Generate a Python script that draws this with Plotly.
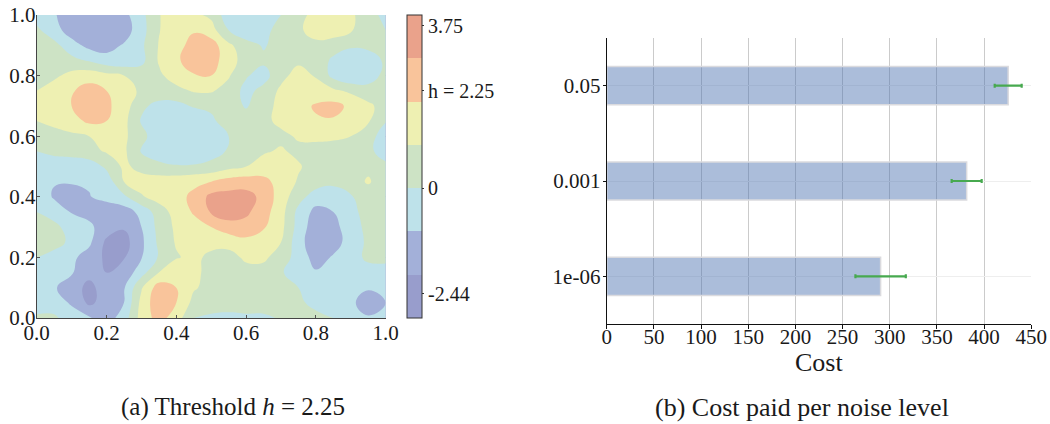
import plotly.graph_objects as go

# ---------------- data: panel (a) contour field ----------------
grid_x = [round(i * 0.05, 2) for i in range(21)]
grid_y = [round(i * 0.05, 2) for i in range(21)]

# rows from y = 0.00 (bottom) to y = 1.00 (top); columns x = 0.00 ... 1.00
z_rows = [
    [0.1, 0.2, -0.6, -0.9, -1.5, -0.5, 1.4, 2.4, 1.5, 0.0, -0.2, -0.3, -0.2, -0.2, 0.1, 0.4, 0.3, 0.0, -0.6, -0.9, -0.7],
    [-0.3, -0.6, -1.1, -2.2, -1.6, -1.0, 1.3, 2.7, 2.0, 0.7, 0.5, 0.5, 0.5, 0.5, 0.5, 0.2, -0.3, -0.6, -0.8, -1.5, -1.0],
    [-0.4, -0.9, -1.5, -2.3, -1.5, -1.1, 0.9, 2.5, 2.0, 1.1, 0.7, 0.6, 0.6, 0.5, 0.4, 0.0, -0.6, -0.7, -0.7, -0.9, -0.8],
    [-0.5, -0.8, -0.9, -1.7, -2.0, -1.7, -0.4, 1.0, 2.0, 1.3, 0.6, 0.5, 0.6, 0.6, 0.1, -0.5, -0.9, -0.7, -0.5, -0.4, -0.3],
    [0.0, -0.5, -0.8, -1.4, -2.2, -2.05, -1.05, 0.1, 0.9, 1.3, 0.7, 0.6, 1.2, 1.2, 0.5, -0.4, -1.4, -0.9, -0.4, 0.2, 0.2],
    [0.3, 0.5, -0.3, -0.8, -2.2, -2.4, -1.2, 0.2, 1.1, 1.5, 1.4, 1.4, 1.7, 1.5, 1.0, -0.6, -1.7, -1.4, -0.6, 0.2, 0.4],
    [0.4, 0.3, -0.5, -0.8, -1.5, -1.9, -1.0, 0.3, 1.2, 1.6, 2.0, 2.5, 2.6, 2.1, 1.3, -0.4, -1.6, -1.3, -0.5, 0.3, 0.4],
    [0.0, -0.5, -1.05, -1.3, -1.6, -1.5, -0.7, 0.5, 1.4, 2.1, 3.1, 3.6, 3.2, 2.4, 1.4, -0.3, -1.3, -1.0, -0.3, 0.4, 0.5],
    [-0.4, -1.1, -1.5, -1.05, -0.7, -0.2, 0.9, 1.4, 1.7, 2.2, 3.3, 3.4, 3.4, 2.7, 1.5, 0.4, -0.5, -0.7, -0.1, 0.5, 0.5],
    [-0.6, -0.95, -0.9, -0.9, -0.6, 1.0, 1.4, 1.5, 1.6, 1.8, 2.0, 2.4, 2.5, 2.3, 1.6, 0.9, 0.5, 0.3, 0.6, 1.1, 0.5],
    [-0.5, -0.7, -0.8, -0.6, 0.2, 1.2, 0.7, 0.3, 0.1, 0.1, 0.3, 0.7, 1.0, 1.4, 1.5, 1.1, 0.6, 0.5, 0.6, 0.8, 0.2],
    [0.0, 0.3, 0.5, 0.7, 1.1, 1.2, -0.1, -0.6, -0.8, -0.7, -0.4, 0.1, 0.5, 0.9, 1.1, 0.8, 0.5, 0.5, 0.4, 0.2, -0.4],
    [0.4, 0.6, 0.8, 1.0, 1.5, 1.2, 0.3, -0.6, -0.9, -0.9, -0.5, 0.0, 0.5, 0.6, 0.8, 1.1, 1.3, 1.2, 1.0, 0.4, -0.5],
    [1.0, 1.3, 1.6, 2.2, 2.0, 1.3, -0.1, -0.7, -0.9, -0.8, -0.2, 0.5, 0.5, 0.8, 1.2, 1.6, 1.9, 1.9, 1.6, 1.1, 0.05],
    [1.2, 1.6, 2.0, 2.7, 2.2, 1.5, 0.2, -0.3, -0.3, 0.1, 0.2, 0.5, -0.1, 0.6, 1.3, 1.7, 2.1, 2.3, 1.8, 1.2, 0.6],
    [1.0, 1.5, 1.9, 2.4, 2.0, 1.5, 0.8, 0.6, 0.7, 1.1, 1.1, 0.6, -0.3, 0.3, 1.2, 1.6, 1.5, 1.2, 0.8, 0.4, 0.3],
    [0.4, 0.8, 1.3, 1.6, 1.3, 1.0, 0.6, 0.8, 1.5, 1.9, 2.0, 1.1, 0.1, -0.4, 0.7, 1.4, 0.9, -0.3, -0.9, -0.5, 0.3],
    [0.5, 0.6, 0.3, -0.1, -0.6, -0.7, -0.3, 1.1, 1.8, 2.6, 2.4, 1.5, 0.5, 0.2, 0.3, 0.8, 0.6, -0.2, -0.8, -0.6, 0.2],
    [0.5, 0.3, -0.6, -1.3, -1.4, -0.9, -0.2, 1.05, 1.6, 2.4, 2.5, 1.2, 0.4, -0.1, 0.4, 0.6, 0.7, 0.5, 0.2, 0.3, 0.4],
    [0.2, -0.6, -1.5, -1.9, -1.9, -1.5, -0.4, 0.95, 1.6, 1.9, 1.4, 0.0, -0.7, -0.4, 0.5, 0.8, 1.5, 1.5, 1.1, 0.5, 0.0],
    [-0.4, -0.9, -1.6, -1.8, -1.7, -1.3, -0.3, 0.95, 1.5, 1.2, 0.8, -0.6, -0.9, -0.8, 0.0, 0.6, 1.4, 1.6, 1.2, 0.4, -0.3],
]

level_bounds = [-3, -2, -1, 0, 1, 2, 3, 4]
band_colors = ["#989dcc", "#a3b0d9", "#bee2ea", "#cde3c5", "#eef0b2", "#f9c49b", "#eaa28b"]
cbar_tickvals = [3.75, 2.25, 0, -2.44]
cbar_ticktext = ["3.75", "h = 2.25", "0", "-2.44"]
axis_ticks_a = [0.0, 0.2, 0.4, 0.6, 0.8, 1.0]
axis_ticktext_a = ["0.0", "0.2", "0.4", "0.6", "0.8", "1.0"]

# ---------------- data: panel (b) bars ----------------
noise_levels = ["1e-06", "0.001", "0.05"]
cost_mean = [290.3, 381.5, 425.5]
cost_err = [26.7, 15.9, 14.3]
cost_ticks = [0, 50, 100, 150, 200, 250, 300, 350, 400, 450]

FONT = "Liberation Serif, Times New Roman, serif"
TXT = "#1a1a1a"
W, H = 1050, 424


def fx(px):
    return px / W


def fy(py):
    return 1 - py / H


n = len(band_colors)
fill_scale = [[i / (n - 1), c] for i, c in enumerate(band_colors)]
step_scale = []
for i, c in enumerate(band_colors):
    step_scale.append([i / n, c])
    step_scale.append([(i + 1) / n, c])

GRID_A = "rgba(160,160,160,0.55)"

fig = go.Figure()

fig.add_trace(go.Contour(
    x=grid_x, y=grid_y, z=z_rows,
    xaxis="x", yaxis="y",
    colorscale=fill_scale,
    contours=dict(start=level_bounds[1], end=level_bounds[-2], size=1, coloring="fill", showlines=False),
    line=dict(width=0, smoothing=1.3),
    showscale=False,
    hoverinfo="skip",
))

fig.add_trace(go.Scatter(
    x=[None] * len(level_bounds), y=[None] * len(level_bounds),
    xaxis="x", yaxis="y", mode="markers",
    marker=dict(
        color=level_bounds, cmin=level_bounds[0], cmax=level_bounds[-1],
        colorscale=step_scale, showscale=True,
        colorbar=dict(
            x=fx(407), xanchor="left", xpad=0,
            y=fy(318), yanchor="bottom", ypad=0,
            len=303, lenmode="pixels",
            thickness=15, thicknessmode="pixels",
            outlinewidth=1, outlinecolor="#333333",
            tickmode="array", tickvals=cbar_tickvals, ticktext=cbar_ticktext,
            ticks="outside", ticklen=2, tickcolor="#333333",
            tickfont=dict(family=FONT, size=20, color=TXT),
        ),
    ),
    showlegend=False, hoverinfo="skip",
))

fig.add_trace(go.Bar(
    x=cost_mean, y=noise_levels, orientation="h",
    xaxis="x2", yaxis="y2",
    width=0.4,
    marker=dict(color="rgba(76,114,176,0.47)", line=dict(color="rgba(218,218,222,1)", width=1.5)),
    error_x=dict(type="data", array=cost_err, color="#47a94f", thickness=2.2, width=2),
    showlegend=False,
))

fig.update_layout(
    width=W, height=H,
    margin=dict(l=0, r=0, t=0, b=0, autoexpand=False),
    paper_bgcolor="white", plot_bgcolor="white",
    font=dict(family=FONT, color=TXT),
    showlegend=False,
    xaxis=dict(
        domain=[fx(36.7), fx(385.7)], range=[0, 1], anchor="y",
        tickmode="array", tickvals=axis_ticks_a, ticktext=axis_ticktext_a,
        tickfont=dict(family=FONT, size=21, color=TXT),
        showgrid=True, gridcolor=GRID_A, gridwidth=1,
        showline=True, linecolor="#444444", linewidth=1,
        ticks="inside", ticklen=3, tickcolor="#555555",
        ticklabelstandoff=-4, ticklabeloverflow="allow",
        zeroline=False, layer="above traces", automargin=False,
    ),
    yaxis=dict(
        domain=[fy(318), fy(15)], range=[0, 1], anchor="x",
        tickmode="array", tickvals=axis_ticks_a, ticktext=axis_ticktext_a,
        tickfont=dict(family=FONT, size=21, color=TXT),
        showgrid=True, gridcolor=GRID_A, gridwidth=1,
        showline=True, linecolor="#444444", linewidth=1,
        ticks="inside", ticklen=3, tickcolor="#555555",
        ticklabelstandoff=-4, ticklabeloverflow="allow",
        zeroline=False, layer="above traces", automargin=False,
    ),
    xaxis2=dict(
        domain=[fx(606.7), fx(1031.3)], range=[0, 450], anchor="y2",
        tickmode="array", tickvals=cost_ticks,
        tickfont=dict(family=FONT, size=21, color=TXT),
        showgrid=True, gridcolor="#cbcbcb", gridwidth=1,
        showline=True, linecolor="#111111", linewidth=1.2,
        ticks="outside", ticklen=4, tickcolor="#111111",
        ticklabelstandoff=-10, ticklabeloverflow="allow",
        zeroline=False, automargin=False,
    ),
    yaxis2=dict(
        domain=[fy(324), fy(38)], anchor="x2",
        type="category", categoryorder="array", categoryarray=noise_levels,
        range=[-0.5, 2.5],
        tickfont=dict(family=FONT, size=21, color=TXT),
        showgrid=True, gridcolor="#eeeeee", gridwidth=1,
        showline=True, linecolor="#111111", linewidth=1.2,
        ticks="outside", ticklen=3, tickcolor="#111111",
        ticklabelstandoff=-2, ticklabeloverflow="allow",
        zeroline=False, automargin=False,
    ),
    annotations=[
        dict(text="Cost", x=fx(819), y=fy(362), xref="paper", yref="paper",
             xanchor="center", yanchor="middle", showarrow=False,
             font=dict(family=FONT, size=26, color=TXT)),
        dict(text="(a) Threshold <i>h</i> = 2.25", x=fx(233), y=fy(407), xref="paper", yref="paper",
             xanchor="center", yanchor="middle", showarrow=False,
             font=dict(family=FONT, size=25, color=TXT)),
        dict(text="(b) Cost paid per noise level", x=fx(802), y=fy(407), xref="paper", yref="paper",
             xanchor="center", yanchor="middle", showarrow=False,
             font=dict(family=FONT, size=26, color=TXT)),
    ],
)

fig.write_html(
    "out.html",
    config={"displayModeBar": False},
    post_script="document.body.style.margin='0px';document.body.style.overflow='hidden';",
)
